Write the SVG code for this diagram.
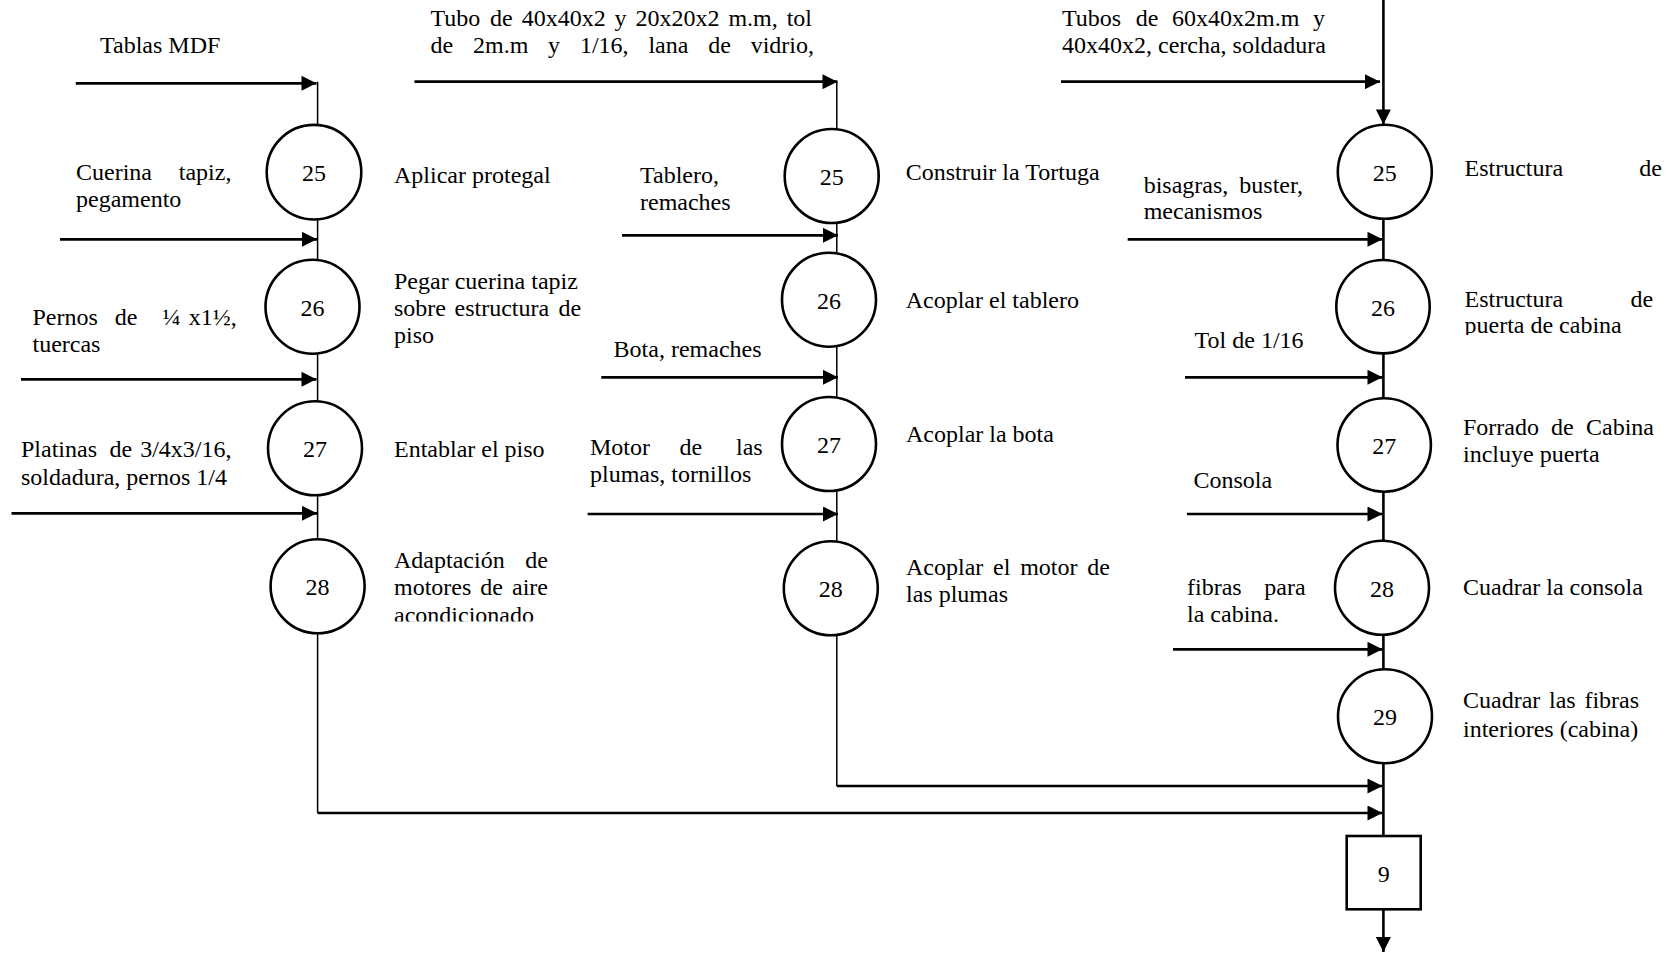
<svg xmlns="http://www.w3.org/2000/svg" width="1675" height="953" viewBox="0 0 1675 953">
<style>
text{font-family:"Liberation Serif","Times New Roman",serif;font-size:24px;fill:#000}
.num{text-anchor:middle}
.end{text-anchor:end}
.op{fill:#fff;stroke:#000;stroke-width:2.6}
.in{stroke:#000;stroke-width:2.7;fill:none;marker-end:url(#arr)}
.sp{stroke:#000;stroke-width:1.5;fill:none}
.sp3{stroke:#000;stroke-width:2.6;fill:none}
</style>
<defs>
<marker id="arr" markerUnits="userSpaceOnUse" viewBox="0 0 16 16" refX="16" refY="8" markerWidth="16" markerHeight="15" orient="auto">
<path d="M0,0 L16,8 L0,16 Z" fill="#000"/>
</marker>
<clipPath id="clipA"><rect x="380" y="540" width="200" height="81.5"/></clipPath>
<clipPath id="clipB"><rect x="1450" y="280" width="225" height="55"/></clipPath>
</defs>
<rect width="1675" height="953" fill="#fff"/>

<g id="connectors">
<!-- spines -->
<line class="sp" x1="317.6" y1="81.7" x2="317.6" y2="813"/>
<line class="sp" x1="836.8" y1="81.7" x2="836.8" y2="786"/>
<line class="in" x1="1383.4" y1="0" x2="1383.4" y2="124.5" style="stroke-width:2.6"/>
<line class="sp3" x1="1383.4" y1="219" x2="1383.4" y2="836"/>
<line class="in" x1="1383.4" y1="909" x2="1383.4" y2="952" style="stroke-width:2.6"/>
<!-- column 1 inputs -->
<line class="in" x1="75.8" y1="83.3" x2="316.5" y2="83.3"/>
<line class="in" x1="60" y1="239.3" x2="317" y2="239.3"/>
<line class="in" x1="21" y1="379.3" x2="316.5" y2="379.3"/>
<line class="in" x1="11.5" y1="513.3" x2="317" y2="513.3"/>
<!-- column 2 inputs -->
<line class="in" x1="414.4" y1="81.7" x2="837.5" y2="81.7"/>
<line class="in" x1="622" y1="235.3" x2="838" y2="235.3"/>
<line class="in" x1="601.3" y1="377.3" x2="838" y2="377.3"/>
<line class="in" x1="587.6" y1="514" x2="838" y2="514"/>
<!-- column 3 inputs -->
<line class="in" x1="1061" y1="81.7" x2="1380" y2="81.7"/>
<line class="in" x1="1127.7" y1="239.3" x2="1382.5" y2="239.3"/>
<line class="in" x1="1185" y1="377.3" x2="1382.5" y2="377.3"/>
<line class="in" x1="1186.9" y1="514" x2="1382.5" y2="514"/>
<line class="in" x1="1173" y1="649.3" x2="1382.5" y2="649.3"/>
<!-- joins -->
<line class="in" x1="836.8" y1="786" x2="1382.5" y2="786"/>
<line class="in" x1="317.6" y1="813" x2="1382.5" y2="813"/>
<!-- input labels -->
<text x="100" y="53.3">Tablas MDF</text>
<text y="180"><tspan x="76">Cuerina</tspan><tspan x="178.8">tapiz,</tspan></text>
<text x="76" y="206.7">pegamento</text>
<text y="325"><tspan x="32.5">Pernos</tspan><tspan x="114.8">de</tspan><tspan x="162.6">¼</tspan><tspan x="188.7">x1½,</tspan></text>
<text x="32.5" y="351.7">tuercas</text>
<text y="456.7"><tspan x="21">Platinas</tspan><tspan x="109.5">de</tspan><tspan x="140.2">3/4x3/16,</tspan></text>
<text x="21" y="485">soldadura, pernos 1/4</text>

<text y="26"><tspan x="430.5">Tubo</tspan><tspan x="490.1">de</tspan><tspan x="521.7">40x40x2</tspan><tspan x="614.6">y</tspan><tspan x="635.5">20x20x2</tspan><tspan x="728.4">m.m,</tspan><tspan x="786.7">tol</tspan></text>
<text y="52.7"><tspan x="430.5">de</tspan><tspan x="473">2m.m</tspan><tspan x="548.1">y</tspan><tspan x="579.9">1/16,</tspan><tspan x="648.4">lana</tspan><tspan x="708.2">de</tspan><tspan x="750.7">vidrio,</tspan></text>
<text x="640" y="183.3">Tablero,</text>
<text x="640" y="210">remaches</text>
<text x="613.6" y="356.7">Bota, remaches</text>
<text y="455"><tspan x="590">Motor</tspan><tspan x="679.4">de</tspan><tspan x="736">las</tspan></text>
<text x="590" y="481.7">plumas, tornillos</text>

<text y="26"><tspan x="1062">Tubos</tspan><tspan x="1135.7">de</tspan><tspan x="1172">60x40x2m.m</tspan><tspan x="1313">y</tspan></text>
<text x="1062" y="53.3">40x40x2, cercha, soldadura</text>
<text y="192.7"><tspan x="1143.7">bisagras,</tspan><tspan x="1239.3">buster,</tspan></text>
<text x="1143.7" y="219.3">mecanismos</text>
<text x="1194.6" y="348.3">Tol de 1/16</text>
<text x="1193.5" y="488.3">Consola</text>
<text y="595"><tspan x="1187">fibras</tspan><tspan x="1264.3">para</tspan></text>
<text x="1187" y="621.7">la cabina.</text>
</g>

<g id="c1-25">
<circle class="op" cx="314" cy="172.2" r="47.3"/>
<text class="num" x="314" y="181">25</text>
<text x="394" y="183">Aplicar protegal</text>
</g>
<g id="c1-26">
<circle class="op" cx="312.5" cy="306.7" r="47"/>
<text class="num" x="312.5" y="315.5">26</text>
<text x="394" y="289">Pegar cuerina tapiz</text>
<text y="315.7"><tspan x="394">sobre</tspan><tspan x="454.5">estructura</tspan><tspan x="558.5">de</tspan></text>
<text x="394" y="342.7">piso</text>
</g>
<g id="c1-27">
<circle class="op" cx="315" cy="448.3" r="47"/>
<text class="num" x="315" y="457">27</text>
<text x="394" y="456.7">Entablar el piso</text>
</g>
<g id="c1-28">
<circle class="op" cx="317.6" cy="586.3" r="47"/>
<text class="num" x="317.6" y="595">28</text>
<text y="568.3"><tspan x="394">Adaptación</tspan><tspan x="525.3">de</tspan></text>
<text y="595"><tspan x="394">motores</tspan><tspan x="480.3">de</tspan><tspan x="512">aire</tspan></text>
<text x="394" y="622.5" clip-path="url(#clipA)">acondicionado</text>
</g>

<g id="c2-25">
<circle class="op" cx="831.7" cy="176" r="47"/>
<text class="num" x="831.7" y="185">25</text>
<text x="905.7" y="180">Construir la Tortuga</text>
</g>
<g id="c2-26">
<circle class="op" cx="829" cy="299.7" r="47"/>
<text class="num" x="829" y="308.5">26</text>
<text x="905.7" y="308.3">Acoplar el tablero</text>
</g>
<g id="c2-27">
<circle class="op" cx="829" cy="444" r="47"/>
<text class="num" x="829" y="452.7">27</text>
<text x="906" y="441.7">Acoplar la bota</text>
</g>
<g id="c2-28">
<circle class="op" cx="830.8" cy="588.3" r="47"/>
<text class="num" x="830.8" y="597">28</text>
<text y="575"><tspan x="906">Acoplar</tspan><tspan x="993.1">el</tspan><tspan x="1020.2">motor</tspan><tspan x="1087.3">de</tspan></text>
<text x="906" y="601.7">las plumas</text>
</g>

<g id="c3-25">
<circle class="op" cx="1384.8" cy="171.8" r="47"/>
<text class="num" x="1384.8" y="181">25</text>
<text y="176"><tspan x="1464.5">Estructura</tspan><tspan x="1639.3">de</tspan></text>
</g>
<g id="c3-26">
<circle class="op" cx="1383" cy="306.7" r="46.7"/>
<text class="num" x="1383" y="315.5">26</text>
<text y="306.7"><tspan x="1464.5">Estructura</tspan><tspan x="1630.6">de</tspan></text>
<text x="1464.5" y="333.3" clip-path="url(#clipB)">puerta de cabina</text>
</g>
<g id="c3-27">
<circle class="op" cx="1384.2" cy="445" r="46.7"/>
<text class="num" x="1384.2" y="453.5">27</text>
<text y="435"><tspan x="1463">Forrado</tspan><tspan x="1551">de</tspan><tspan x="1586">Cabina</tspan></text>
<text x="1463" y="461.7">incluye puerta</text>
</g>
<g id="c3-28">
<circle class="op" cx="1382" cy="587.8" r="47"/>
<text class="num" x="1382" y="596.5">28</text>
<text x="1463" y="595">Cuadrar la consola</text>
</g>
<g id="c3-29">
<circle class="op" cx="1385" cy="716.3" r="47"/>
<text class="num" x="1385" y="725">29</text>
<text y="708.3"><tspan x="1463">Cuadrar</tspan><tspan x="1549">las</tspan><tspan x="1584.4">fibras</tspan></text>
<text x="1463" y="736.7">interiores (cabina)</text>
</g>
<g id="store-9">
<rect class="op" x="1346.7" y="836" width="74" height="73.3"/>
<text class="num" x="1383.7" y="881.7">9</text>
</g>
</svg>
